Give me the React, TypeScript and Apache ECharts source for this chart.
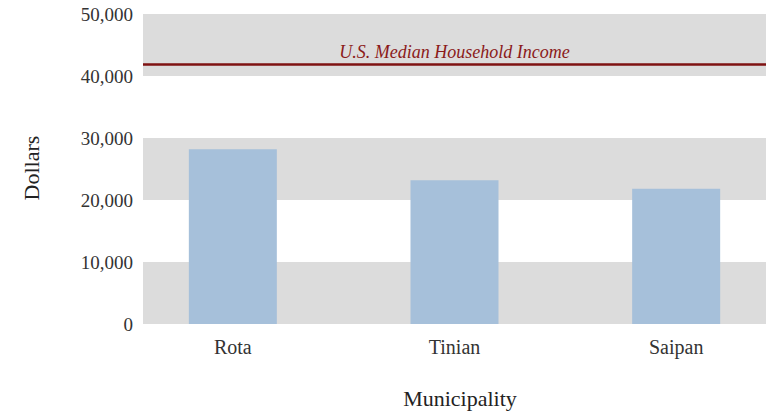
import React, { useEffect, useRef } from "react";
import * as echarts from "echarts";

const categories = ["Rota", "Tinian", "Saipan"];
const incomeValues = [28200, 23200, 21800];
const usMedianIncome = 41900;
const medianLabel = "U.S. Median Household Income";
const yTitle = "Dollars";
const xTitle = "Municipality";

const FONT = "'Liberation Serif', 'DejaVu Serif', serif";

export default function App() {
  const ref = useRef<HTMLDivElement>(null);
  useEffect(() => {
    if (!ref.current) return;
    const chart = echarts.init(ref.current, null, { renderer: "svg" });
    chart.setOption({
      animation: false,
      grid: [
        { left: 143, right: 21, top: 14, bottom: 90 },
        { left: 122, right: 0, top: 14, bottom: 90 },
      ],
      xAxis: [
        {
          gridIndex: 0,
          type: "value",
          min: 0,
          max: 1,
          show: false,
        },
        {
          gridIndex: 1,
          type: "category",
          data: categories,
          axisLine: { show: false },
          axisTick: { show: false },
          axisLabel: {
            color: "#333",
            fontFamily: FONT,
            fontSize: 20,
            margin: 13,
          },
        },
      ],
      yAxis: [
        {
          gridIndex: 0,
          type: "value",
          min: 0,
          max: 50000,
          interval: 10000,
          axisLine: { show: false },
          axisTick: { show: false },
          splitLine: { show: false },
          splitArea: { show: true, areaStyle: { color: ["#dcdcdc", "#ffffff"] } },
          axisLabel: {
            color: "#333",
            fontFamily: FONT,
            fontSize: 19,
            margin: 10,
            verticalAlign: "middle",
            lineHeight: 22,
            padding: [6, 0, 0, 0],
            formatter: (v: number) => v.toLocaleString("en-US"),
          },
        },
        {
          gridIndex: 1,
          type: "value",
          min: 0,
          max: 50000,
          interval: 10000,
          show: false,
          splitLine: { show: false },
        },
      ],
      graphic: [
        {
          type: "text",
          x: 31,
          y: 168,
          rotation: Math.PI / 2,
          style: {
            text: yTitle,
            fontFamily: FONT,
            fontSize: 22,
            fill: "#222",
            align: "center",
            verticalAlign: "middle",
          },
        },
        {
          type: "text",
          x: 460,
          y: 398,
          style: {
            text: xTitle,
            fontFamily: FONT,
            fontSize: 22,
            fill: "#222",
            align: "center",
            verticalAlign: "middle",
          },
        },
      ],
      series: [
        {
          type: "line",
          xAxisIndex: 0,
          yAxisIndex: 0,
          data: [],
          silent: true,
          markLine: {
            symbol: "none",
            silent: true,
            lineStyle: { color: "#7f1212", width: 2.7, type: "solid" },
            label: {
              show: true,
              position: "insideMiddleTop",
              formatter: medianLabel,
              color: "#8b1a1a",
              fontFamily: FONT,
              fontStyle: "italic",
              fontSize: 18,
              distance: 3,
            },
            data: [{ yAxis: usMedianIncome }],
          },
        },
        {
          type: "bar",
          xAxisIndex: 1,
          yAxisIndex: 1,
          data: incomeValues,
          barWidth: 88,
          itemStyle: { color: "#a6c0da" },
        },
      ],
    });
    return () => chart.dispose();
  }, []);
  return (
    <div
      style={{
        position: "absolute",
        left: 0,
        top: 0,
        width: 766,
        height: 414,
        overflow: "hidden",
      }}
    >
      <div ref={ref} style={{ width: 787, height: 414 }} />
    </div>
  );
}
